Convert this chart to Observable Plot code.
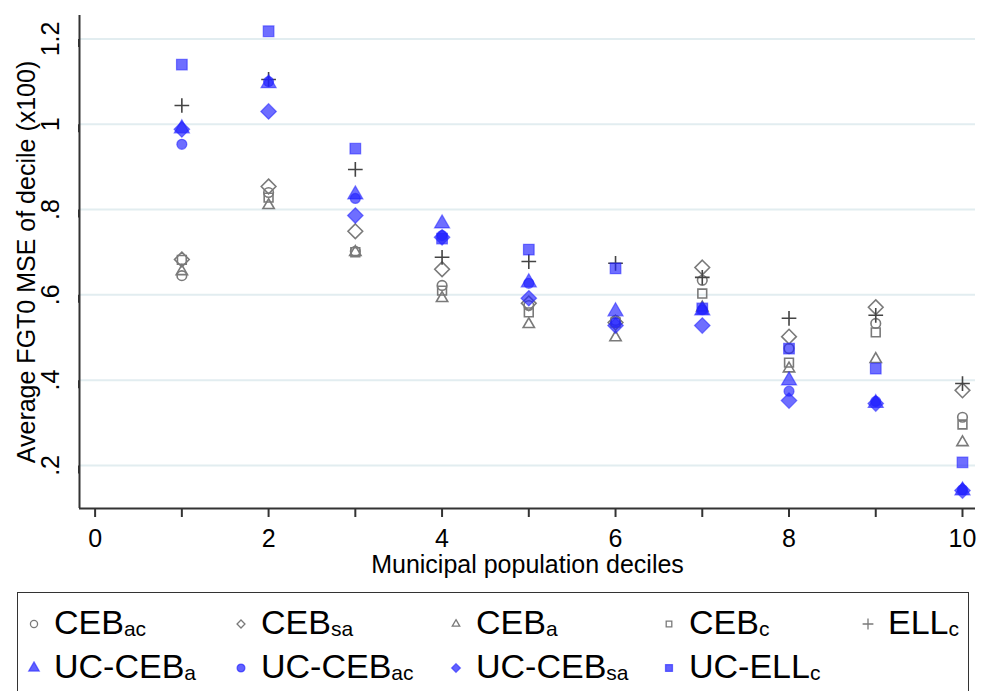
<!DOCTYPE html>
<html>
<head>
<meta charset="utf-8">
<script src="https://cdn.jsdelivr.net/npm/d3@7"></script>
<script src="https://cdn.jsdelivr.net/npm/@observablehq/plot@0.6"></script>
<style>
  body { margin: 0; background: #fff; font-family: "Liberation Sans", Arial, sans-serif; }
  #chart { width: 986px; height: 585px; }
  #legend {
    position: absolute; left: 17px; top: 592px; width: 952px; height: 110px;
    border: 1.5px solid #333; box-sizing: border-box;
  }
  .mk { position: absolute; }
  .lab { position: absolute; font-size: 34px; line-height: 34px; color: #000; white-space: nowrap; }
  .lab .s { font-size: 21px; position: relative; top: 2px; }
</style>
</head>
<body>
<div id="chart"></div>
<div id="legend"></div>
<script>
const deciles = [1, 2, 3, 4, 5, 6, 7, 8, 9, 10]

// Average FGT0 MSE (x100) per decile
const cebAc   = [0.645, 0.840, 0.702, 0.622, 0.575, 0.540, 0.634, 0.474, 0.533, 0.313]
const cebSa   = [0.683, 0.854, 0.749, 0.660, 0.580, 0.535, 0.664, 0.502, 0.571, 0.376]
const cebA    = [0.655, 0.810, 0.700, 0.592, 0.531, 0.500, 0.570, 0.427, 0.449, 0.254]
const cebC    = [0.682, 0.828, 0.700, 0.610, 0.559, 0.535, 0.603, 0.441, 0.512, 0.296]
const ellC    = [1.044, 1.105, 0.894, 0.688, 0.678, 0.674, 0.641, 0.545, 0.552, 0.392]
const ucCebA  = [0.990, 1.096, 0.835, 0.767, 0.629, 0.561, 0.563, 0.399, 0.346, 0.141]
const ucCebAc = [0.953, 1.100, 0.826, 0.739, 0.627, 0.535, 0.565, 0.374, 0.350, 0.143]
const ucCebSa = [0.988, 1.030, 0.786, 0.735, 0.592, 0.528, 0.528, 0.352, 0.345, 0.141]
const ucEllC  = [1.140, 1.218, 0.943, 0.732, 0.706, 0.662, 0.568, 0.474, 0.427, 0.207]

const yTicks = [0.2, 0.4, 0.6, 0.8, 1, 1.2]
const xTicks = [0, 1, 2, 3, 4, 5, 6, 7, 8, 9, 10]

const gray = "#7a7a7a"
const blue = "#2020ff"

// series: name, subscript, values, symbol, radius, filled?
const series = [
  {name: "CEB", sub: "ac", values: cebAc, symbol: "circle", r: 4.8, filled: false},
  {name: "CEB", sub: "sa", values: cebSa, symbol: "diamond2", r: 6.6, filled: false},
  {name: "CEB", sub: "a", values: cebA, symbol: "triangle2", r: 5.4, filled: false},
  {name: "CEB", sub: "c", values: cebC, symbol: "square2", r: 5.6, filled: false},
  {name: "ELL", sub: "c", values: ellC, symbol: "plus", r: 4.8, filled: false, dark: true},
  {name: "UC-CEB", sub: "a", values: ucCebA, symbol: "triangle", r: 5.6, filled: true},
  {name: "UC-CEB", sub: "ac", values: ucCebAc, symbol: "circle", r: 5, filled: true},
  {name: "UC-CEB", sub: "sa", values: ucCebSa, symbol: "diamond2", r: 7, filled: true},
  {name: "UC-ELL", sub: "c", values: ucEllC, symbol: "square", r: 6, filled: true}
]

const dotMarks = series.map(s => {
  const rows = deciles.map((d, i) => ({decile: d, value: s.values[i]}))
  return Plot.dot(rows, s.filled
    ? {x: "decile", y: "value", symbol: () => s.symbol, r: s.r, fill: blue, fillOpacity: 0.65, stroke: blue, strokeOpacity: 0.55, strokeWidth: 1.2}
    : {x: "decile", y: "value", symbol: () => s.symbol, r: s.r, fill: "none", stroke: s.dark ? "#444" : gray, strokeWidth: 1.6})
})

const chart = Plot.plot({
  width: 986,
  height: 585,
  marginLeft: 79,
  marginRight: 11,
  marginTop: 15,
  marginBottom: 77,
  style: {fontFamily: "Liberation Sans, Arial, sans-serif", fontSize: "25px", color: "#000", background: "#fff"},
  x: {domain: [-0.18, 10.15]},
  y: {domain: [0.099, 1.255]},
  symbol: {type: "identity"},
  marks: [
    Plot.gridY(yTicks, {stroke: "#e2edf0", strokeOpacity: 1, strokeWidth: 2}),
    Plot.axisY(yTicks, {
      tickSize: 8, tickPadding: 21, stroke: "#333", strokeWidth: 2,
      rotate: -90, textAnchor: "middle",
      tickFormat: d => String(Math.round(d * 10) / 10).replace(/^0\./, "."),
      fontSize: 25,
      label: "Average FGT0 MSE of decile (x100)", labelAnchor: "center", labelArrow: "none", labelOffset: 62
    }),
    Plot.axisX(xTicks, {
      tickSize: 9, tickPadding: 12, stroke: "#333", strokeWidth: 2,
      tickFormat: d => d % 2 === 0 ? d : "",
      fontSize: 25,
      label: "Municipal population deciles", labelAnchor: "center", labelArrow: "none", labelOffset: 64
    }),
    Plot.ruleX([-0.18], {stroke: "#333", strokeWidth: 2}),
    Plot.ruleY([0.099], {stroke: "#333", strokeWidth: 2}),
    ...dotMarks
  ]
})

d3.select("#chart").append(() => chart)

// legend: 5 columns, 2 rows (positions relative to the box)
const legend = d3.select("#legend")
const markX = [16, 223, 438, 651, 850]
const rowY = [31, 75]
const symbols = {circle: d3.symbolCircle, diamond2: d3.symbolDiamond2, triangle2: d3.symbolTriangle2,
  square2: d3.symbolSquare2, plus: d3.symbolPlus, triangle: d3.symbolTriangle, square: d3.symbolSquare}
series.forEach((s, i) => {
  const row = i < 5 ? 0 : 1
  const col = i < 5 ? i : i - 5
  const svg = legend.append("svg").attr("class", "mk")
    .attr("width", 14).attr("height", 14)
    .style("left", (markX[col] - 7) + "px")
    .style("top", (rowY[row] - 7) + "px")
  svg.append("path")
    .attr("transform", "translate(7,7)")
    .attr("d", d3.symbol(symbols[s.symbol], s.filled ? 48 : 40)())
    .attr("fill", s.filled ? blue : "none")
    .attr("fill-opacity", 0.7)
    .attr("stroke", s.filled ? blue : gray)
    .attr("stroke-opacity", s.filled ? 0.6 : 1)
    .attr("stroke-width", 1.3)
  legend.append("div").attr("class", "lab")
    .style("left", (markX[col] + 20) + "px")
    .style("top", (rowY[row] - 19) + "px")
    .html(`${s.name}<span class="s">${s.sub}</span>`)
})
</script>
</body>
</html>
